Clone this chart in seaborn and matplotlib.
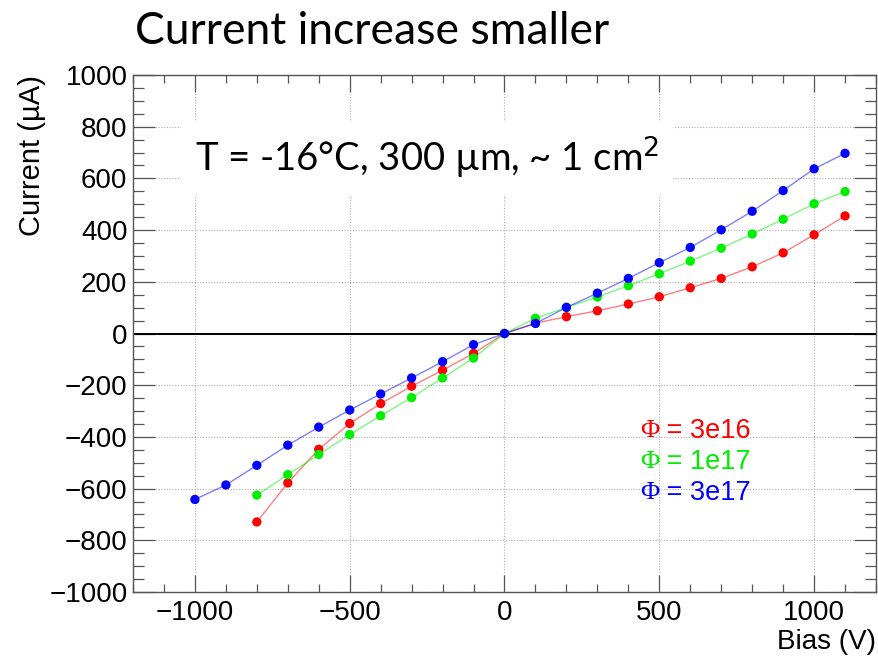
import matplotlib
matplotlib.use("Agg")
import matplotlib.pyplot as plt
from matplotlib.ticker import MultipleLocator
import numpy as np
import pandas as pd
import seaborn as sns

# Bias voltages (V)
bias_long = [-1000, -900, -800, -700, -600, -500, -400, -300, -200, -100, 0,
             100, 200, 300, 400, 500, 600, 700, 800, 900, 1000, 1100]
bias_short = bias_long[2:]

# Leakage current (uA) for each fluence
current_3e16 = [-729, -578, -448, -348, -271, -204, -142, -77, 0,
                40, 65, 88, 114, 142, 177, 213, 258, 312, 382, 455]
current_1e17 = [-625, -546, -468, -391, -318, -248, -172, -95, 0,
                59, 101, 141, 185, 231, 280, 330, 385, 442, 502, 549]
current_3e17 = [-642, -586, -510, -432, -362, -296, -234, -172, -109, -43, 0,
                39, 101, 156, 213, 274, 333, 401, 473, 553, 637, 697]

fluence_values = ["3e16", "1e17", "3e17"]
colors = ["#ff0000", "#00ee00", "#0000ff"]

frames = []
for lab, x, y in zip(fluence_values,
                     [bias_short, bias_short, bias_long],
                     [current_3e16, current_1e17, current_3e17]):
    frames.append(pd.DataFrame({"bias": x, "current": y, "fluence": lab}))
df = pd.concat(frames, ignore_index=True)
palette = dict(zip(fluence_values, colors))

sns.set_theme(style="white")
plt.rcParams["font.family"] = ["Liberation Sans", "DejaVu Sans"]

fig = plt.figure(figsize=(8.79, 6.6), dpi=100)
ax = fig.add_axes([133 / 879, 1 - 592 / 660, 743 / 879, 517 / 660])

ax.set_xlim(-1200, 1200)
ax.set_ylim(-1000, 1000)

# grid and zero line
ax.grid(True, which="major", color="#b0b0b0", linestyle=(0, (1, 1.5)), linewidth=0.8)
ax.axhline(0, color="black", linewidth=1.4, zorder=2)

sns.lineplot(data=df, x="bias", y="current", hue="fluence", palette=palette,
             hue_order=fluence_values, sort=False, estimator=None,
             linewidth=1.0, alpha=0.5, legend=False, ax=ax, zorder=3)
sns.scatterplot(data=df, x="bias", y="current", hue="fluence", palette=palette,
                hue_order=fluence_values, s=45, linewidth=0, legend=False,
                ax=ax, zorder=4)

# ticks on all four sides, pointing inward
ax.xaxis.set_major_locator(MultipleLocator(500))
ax.xaxis.set_minor_locator(MultipleLocator(100))
ax.yaxis.set_major_locator(MultipleLocator(200))
ax.yaxis.set_minor_locator(MultipleLocator(50))
ax.tick_params(axis="both", which="both", direction="in", top=True, right=True,
               bottom=True, left=True, color="#555555", width=0.9,
               labelsize=20, labelcolor="black")
ax.tick_params(axis="x", which="major", length=12, pad=6)
ax.tick_params(axis="x", which="minor", length=6)
ax.tick_params(axis="y", which="major", length=16, pad=4)
ax.tick_params(axis="y", which="minor", length=8)
for sp in ax.spines.values():
    sp.set_color("#555555")
    sp.set_linewidth(1.0)

ax.set_xlabel("Bias (V)", fontsize=20, loc="right", labelpad=2, color="black")
ax.set_ylabel("Current (\u00b5A)", fontsize=21, loc="top", labelpad=2, color="black")

# fluence labels: serif Phi followed by the value
for i, (val, c) in enumerate(zip(fluence_values, colors)):
    y = 1 - (431 + 31 * i) / 660
    ax.text(640 / 879, y, "\u03a6", transform=fig.transFigure, color=c,
            fontsize=19, family=["Liberation Serif", "DejaVu Serif"],
            va="center", ha="left")
    ax.text(659 / 879, y, " = " + val, transform=fig.transFigure, color=c,
            fontsize=19.5, va="center", ha="left")

# conditions box
ax.text(0.486, 1 - 158 / 660, "T = -16\u00b0C, 300 \u00b5m, ~ 1 cm$^{2}$",
        transform=fig.transFigure, fontsize=27.5, family=["Lato", "DejaVu Sans"],
        ha="center", va="center", color="black", zorder=5,
        bbox=dict(facecolor="white", edgecolor="none", pad=10))

fig.text(135 / 879, 1 - 44 / 660, "Current increase smaller", fontsize=32,
         family=["Lato", "DejaVu Sans"], ha="left", va="baseline", color="black")

fig.savefig("out.png", dpi=100)
